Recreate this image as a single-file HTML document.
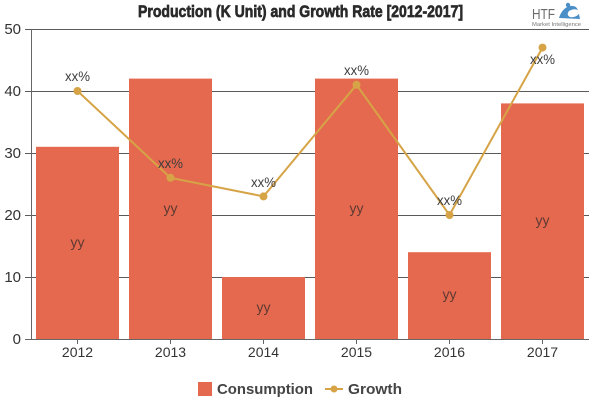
<!DOCTYPE html>
<html>
<head>
<meta charset="utf-8">
<style>
  html, body { margin: 0; padding: 0; background: #ffffff; }
  svg { display: block; }
  text { font-family: "Liberation Sans", "DejaVu Sans", sans-serif; }
</style>
</head>
<body>
<svg width="600" height="400" viewBox="0 0 600 400" xmlns="http://www.w3.org/2000/svg">
  <rect x="0" y="0" width="600" height="400" fill="#ffffff"/>

  <!-- Title -->
  <text x="138" y="17" font-size="17" font-weight="bold" fill="#2a2a2a" stroke="#2a2a2a" stroke-width="0.7" textLength="325" lengthAdjust="spacingAndGlyphs">Production (K Unit) and Growth Rate [2012-2017]</text>

  <!-- Logo -->
  <text x="532" y="19" font-size="15" fill="#6b6b6b" font-family="Liberation Serif, serif" textLength="23" lengthAdjust="spacingAndGlyphs">HTF</text>
  <path d="M559 18 Q562 8 570 6 Q576 5 578 10 Q574 8 569 11 Q566 15 570 17 Q575 18 579 14 L580 19 Z" fill="#4a8fc7"/>
  <circle cx="568" cy="5" r="2.2" fill="#4a8fc7"/>
  <text x="532" y="26" font-size="5" fill="#777777" textLength="49" lengthAdjust="spacingAndGlyphs">Market Intelligence</text>

  <!-- Gridlines -->
  <g stroke="#5a5a5a" stroke-width="1">
    <line x1="25" y1="29.5" x2="589" y2="29.5"/>
    <line x1="25" y1="91.5" x2="589" y2="91.5"/>
    <line x1="25" y1="153.5" x2="589" y2="153.5"/>
    <line x1="25" y1="215.5" x2="589" y2="215.5"/>
    <line x1="25" y1="277.5" x2="589" y2="277.5"/>
  </g>

  <!-- Y axis labels -->
  <g font-size="15" fill="#333333" text-anchor="end">
    <text x="21" y="34">50</text>
    <text x="21" y="96">40</text>
    <text x="21" y="158">30</text>
    <text x="21" y="220">20</text>
    <text x="21" y="282">10</text>
    <text x="21" y="344">0</text>
  </g>

  <!-- Bars -->
  <g fill="#E5694F">
    <rect x="36" y="146.8" width="83" height="192.2"/>
    <rect x="129" y="78.6" width="83" height="260.4"/>
    <rect x="222" y="277" width="83" height="62"/>
    <rect x="315" y="78.6" width="83" height="260.4"/>
    <rect x="408" y="252.2" width="83" height="86.8"/>
    <rect x="501" y="103.4" width="83" height="235.6"/>
  </g>

  <!-- Axes -->
  <line x1="31.5" y1="29" x2="31.5" y2="339" stroke="#666666" stroke-width="1"/>
  <line x1="25" y1="339.5" x2="589" y2="339.5" stroke="#666666" stroke-width="1"/>
  <g stroke="#666666" stroke-width="1">
    <line x1="77.5" y1="339" x2="77.5" y2="344"/>
    <line x1="170.5" y1="339" x2="170.5" y2="344"/>
    <line x1="263.5" y1="339" x2="263.5" y2="344"/>
    <line x1="356.5" y1="339" x2="356.5" y2="344"/>
    <line x1="449.5" y1="339" x2="449.5" y2="344"/>
    <line x1="542.5" y1="339" x2="542.5" y2="344"/>
  </g>

  <!-- X axis labels -->
  <g font-size="14" fill="#333333" text-anchor="middle">
    <text x="77.5" y="357">2012</text>
    <text x="170.5" y="357">2013</text>
    <text x="263.5" y="357">2014</text>
    <text x="356.5" y="357">2015</text>
    <text x="449.5" y="357">2016</text>
    <text x="542.5" y="357">2017</text>
  </g>

  <!-- yy labels -->
  <g font-size="14" fill="#5e3a32" text-anchor="middle">
    <text x="77.5" y="247">yy</text>
    <text x="170.5" y="213">yy</text>
    <text x="263.5" y="312">yy</text>
    <text x="356.5" y="213">yy</text>
    <text x="449.5" y="299">yy</text>
    <text x="542.5" y="225">yy</text>
  </g>

  <!-- Growth line -->
  <polyline points="77.5,91 170.5,177.8 263.5,196.4 356.5,84.8 449.5,215 542.5,47.6" fill="none" stroke="#D6A446" stroke-width="2"/>
  <g fill="#D6A446">
    <circle cx="77.5" cy="91" r="4"/>
    <circle cx="170.5" cy="177.8" r="4"/>
    <circle cx="263.5" cy="196.4" r="4"/>
    <circle cx="356.5" cy="84.8" r="4"/>
    <circle cx="449.5" cy="215" r="4"/>
    <circle cx="542.5" cy="47.6" r="4"/>
  </g>

  <!-- xx% labels -->
  <g font-size="14" fill="#3d3d3d" text-anchor="middle">
    <text x="77.5" y="81" textLength="25" lengthAdjust="spacingAndGlyphs">xx%</text>
    <text x="170.5" y="168" textLength="25" lengthAdjust="spacingAndGlyphs">xx%</text>
    <text x="263.5" y="187" textLength="25" lengthAdjust="spacingAndGlyphs">xx%</text>
    <text x="356.5" y="75" textLength="25" lengthAdjust="spacingAndGlyphs">xx%</text>
    <text x="449.5" y="205" textLength="25" lengthAdjust="spacingAndGlyphs">xx%</text>
    <text x="542.5" y="64" textLength="25" lengthAdjust="spacingAndGlyphs">xx%</text>
  </g>

  <!-- Legend -->
  <rect x="198" y="382" width="14" height="14" fill="#E5694F"/>
  <text x="217" y="394" font-size="15" font-weight="bold" fill="#444444" textLength="96" lengthAdjust="spacingAndGlyphs">Consumption</text>
  <line x1="325" y1="389" x2="343" y2="389" stroke="#D6A446" stroke-width="2"/>
  <circle cx="334" cy="389" r="3.5" fill="#D6A446"/>
  <text x="348" y="394" font-size="15" font-weight="bold" fill="#444444" textLength="54" lengthAdjust="spacingAndGlyphs">Growth</text>
</svg>
</body>
</html>
